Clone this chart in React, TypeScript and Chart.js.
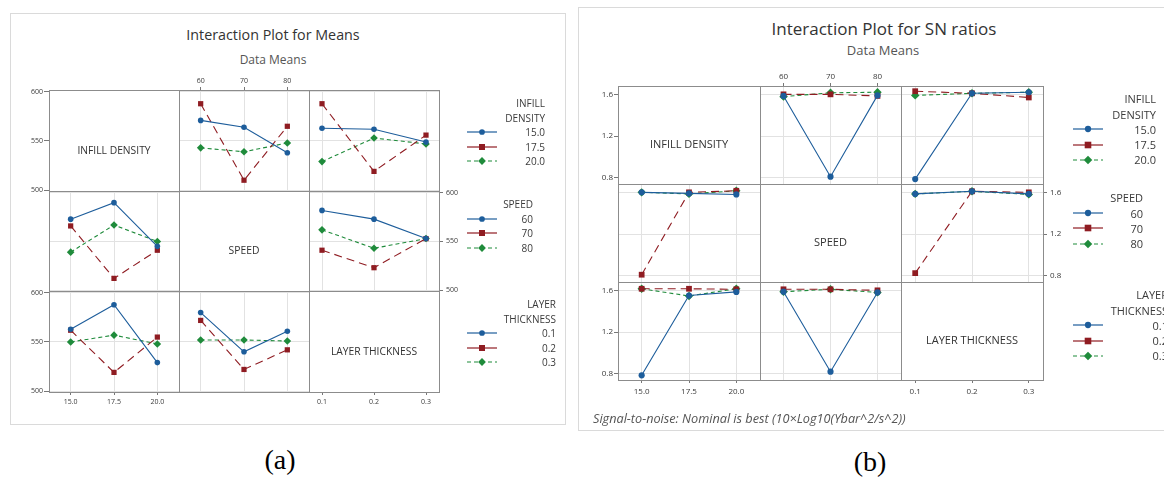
import React, { useEffect, useRef } from "react";
import { Chart, registerables } from "chart.js";
Chart.register(...registerables);

// ---------- data ----------
const FACTORS = ["INFILL DENSITY", "SPEED", "LAYER THICKNESS"];
const LEGEND_HEADERS = [["INFILL", "DENSITY"], ["SPEED"], ["LAYER", "THICKNESS"]];
const INFILL_LEVELS = [15.0, 17.5, 20.0];
const SPEED_LEVELS = [60, 70, 80];
const LAYER_LEVELS = [0.1, 0.2, 0.3];
const INFILL_LABELS = ["15.0", "17.5", "20.0"];
const SPEED_LABELS = ["60", "70", "80"];
const LAYER_LABELS = ["0.1", "0.2", "0.3"];
const INFILL_RANGE = [13.75, 21.25];
const SPEED_RANGE = [55, 85];
const LAYER_RANGE = [0.075, 0.325];

const MEANS_TICKS = [500, 550, 600];
const MEANS_TICK_LABELS = ["500", "550", "600"];
const MEANS_RANGE = [499, 602];
const SN_TICKS = [0.8, 1.2, 1.6];
const SN_TICK_LABELS = ["0.8", "1.2", "1.6"];
const SN_RANGE = [0.74, 1.68];

// [line level][x level]
const MEANS_INFILL_BY_SPEED = [[571, 564, 538], [588, 510, 565], [543, 539, 548]];
const MEANS_INFILL_BY_LAYER = [[563, 562, 549], [588, 519, 556], [529, 553, 547]];
const MEANS_SPEED_BY_INFILL = [[573, 590, 545], [566, 512, 541], [539, 567, 550]];
const MEANS_SPEED_BY_LAYER = [[582, 573, 553], [541, 523, 553], [562, 543, 553]];
const MEANS_LAYER_BY_INFILL = [[563, 588, 529], [562, 519, 555], [550, 557, 548]];
const MEANS_LAYER_BY_SPEED = [[580, 540, 561], [572, 522, 542], [552, 552, 551]];

const SN_INFILL_BY_SPEED = [[1.585, 0.81, 1.59], [1.6, 1.6, 1.585], [1.578, 1.615, 1.62]];
const SN_INFILL_BY_LAYER = [[0.787, 1.61, 1.62], [1.63, 1.61, 1.57], [1.59, 1.61, 1.62]];
const SN_SPEED_BY_INFILL = [[1.6, 1.59, 1.58], [0.81, 1.6, 1.615], [1.6, 1.585, 1.615]];
const SN_SPEED_BY_LAYER = [[1.585, 1.61, 1.585], [0.825, 1.61, 1.6], [1.585, 1.61, 1.58]];
const SN_LAYER_BY_INFILL = [[0.785, 1.55, 1.585], [1.615, 1.615, 1.61], [1.615, 1.546, 1.615]];
const SN_LAYER_BY_SPEED = [[1.587, 0.82, 1.58], [1.61, 1.61, 1.6], [1.587, 1.61, 1.58]];

const LEVELS = [INFILL_LEVELS, SPEED_LEVELS, LAYER_LEVELS];
const LEVEL_LABELS = [INFILL_LABELS, SPEED_LABELS, LAYER_LABELS];
const RANGES = [INFILL_RANGE, SPEED_RANGE, LAYER_RANGE];

const MEANS_DATA = [
  [null, MEANS_INFILL_BY_SPEED, MEANS_INFILL_BY_LAYER],
  [MEANS_SPEED_BY_INFILL, null, MEANS_SPEED_BY_LAYER],
  [MEANS_LAYER_BY_INFILL, MEANS_LAYER_BY_SPEED, null],
];
const SN_DATA = [
  [null, SN_INFILL_BY_SPEED, SN_INFILL_BY_LAYER],
  [SN_SPEED_BY_INFILL, null, SN_SPEED_BY_LAYER],
  [SN_LAYER_BY_INFILL, SN_LAYER_BY_SPEED, null],
];

// ---------- styles ----------
const STYLES = [
  { color: "#1d5d9b", dash: [] as number[], point: "circle", r: 2.8 },
  { color: "#8f1c22", dash: [8, 5], point: "rect", r: 3.7 },
  { color: "#1f8b3b", dash: [4, 3], point: "rectRot", r: 3.8 },
];
const GRID = "#e2e2e2";
const FRAME = "#8c8c8c";
const TXT = "#3a3a3a";
const FONT = '"Open Sans", "Noto Sans", sans-serif';
const M = 30;

type Side = { tl: number; pad: number };
type Spec = {
  left: number; top: number; cw: number; ch: number;
  yTicks: number[]; yLabels: string[]; yRange: number[];
  data: (number[][] | null)[][];
  tickFont: number; diagFont: number; rScale: number;
  sides: { top: Side; bottom: Side; left: Side; right: Side };
};

const SPEC_A: Spec = {
  left: 49, top: 90, cw: 130, ch: 100.67,
  yTicks: MEANS_TICKS, yLabels: MEANS_TICK_LABELS, yRange: MEANS_RANGE,
  data: MEANS_DATA, tickFont: 7, diagFont: 10.3, rScale: 1,
  sides: { top: { tl: 3, pad: 2 }, bottom: { tl: 3, pad: 3 }, left: { tl: 5, pad: 1 }, right: { tl: 4, pad: 3 } },
};
const SPEC_B: Spec = {
  left: 618, top: 86, cw: 141.7, ch: 98,
  yTicks: SN_TICKS, yLabels: SN_TICK_LABELS, yRange: SN_RANGE,
  data: SN_DATA, tickFont: 8, diagFont: 11, rScale: 1.1,
  sides: { top: { tl: 3, pad: 1 }, bottom: { tl: 3, pad: 4 }, left: { tl: 4, pad: 1 }, right: { tl: 4, pad: 3 } },
};

type CellProps = {
  spec: Spec; r: number; c: number;
  xAxis: "top" | "bottom" | null; yAxis: "left" | "right" | null;
};

function Cell({ spec, r, c, xAxis, yAxis }: CellProps) {
  const ref = useRef<HTMLCanvasElement>(null);
  const x0 = Math.round(spec.left + c * spec.cw);
  const x1 = Math.round(spec.left + (c + 1) * spec.cw);
  const y0 = Math.round(spec.top + r * spec.ch);
  const y1 = Math.round(spec.top + (r + 1) * spec.ch);
  const w = x1 - x0;
  const h = y1 - y0;
  const series = spec.data[r][c];
  const diag = r === c;
  useEffect(() => {
    const xs = LEVELS[c];
    const datasets = (series || []).map((vals, i) => {
      const st = STYLES[i];
      return {
        label: LEVEL_LABELS[r][i],
        data: xs.map((x, j) => ({ x, y: vals[j] })),
        borderColor: st.color,
        backgroundColor: st.color,
        borderWidth: 1.1,
        borderDash: st.dash,
        pointStyle: st.point,
        pointRadius: st.r * spec.rScale,
        pointBorderWidth: 0,
        pointBackgroundColor: st.color,
        showLine: true,
        tension: 0,
        clip: false as any,
      };
    });
    const xs2 = xAxis ? spec.sides[xAxis] : { tl: 0, pad: 0 };
    const ys2 = yAxis ? spec.sides[yAxis] : { tl: 0, pad: 0 };
    const tickFont = { family: FONT, size: spec.tickFont };
    const chart = new Chart(ref.current as HTMLCanvasElement, {
      type: "line",
      data: { datasets: datasets as any },
      options: {
        responsive: false,
        maintainAspectRatio: false,
        animation: false,
        events: [],
        layout: {
          padding: {
            left: yAxis === "left" ? 0 : M,
            right: yAxis === "right" ? 0 : M,
            top: xAxis === "top" ? 0 : M,
            bottom: xAxis === "bottom" ? 0 : M,
          },
        },
        plugins: { legend: { display: false }, tooltip: { enabled: false }, title: { display: false } },
        scales: {
          x: {
            type: "linear",
            position: xAxis || "bottom",
            min: RANGES[c][0],
            max: RANGES[c][1],
            afterBuildTicks: (s: any) => { s.ticks = xs.map((v) => ({ value: v })); },
            afterFit: (s: any) => { s.height = xAxis ? M : 0; },
            ticks: {
              display: !!xAxis,
              autoSkip: false,
              maxRotation: 0,
              minRotation: 0,
              padding: xs2.pad,
              font: tickFont,
              color: TXT,
              callback: (_v: any, i: number) => LEVEL_LABELS[c][i],
            },
            grid: {
              display: true,
              drawOnChartArea: !diag,
              drawTicks: !!xAxis,
              tickLength: xs2.tl,
              color: GRID,
              tickColor: "#777",
              lineWidth: 1,
            },
            border: { display: false },
          },
          y: {
            type: "linear",
            position: yAxis || "left",
            min: spec.yRange[0],
            max: spec.yRange[1],
            afterBuildTicks: (s: any) => { s.ticks = spec.yTicks.map((v) => ({ value: v })); },
            afterFit: (s: any) => { s.width = yAxis ? M : 0; },
            ticks: {
              display: !!yAxis,
              autoSkip: false,
              padding: ys2.pad,
              font: tickFont,
              color: TXT,
              callback: (_v: any, i: number) => spec.yLabels[i],
            },
            grid: {
              display: true,
              drawOnChartArea: !diag,
              drawTicks: !!yAxis,
              tickLength: ys2.tl,
              color: GRID,
              tickColor: "#777",
              lineWidth: 1,
            },
            border: { display: false },
          },
        },
      } as any,
    });
    return () => chart.destroy();
  }, []);
  return (
    <>
      <canvas
        ref={ref}
        width={w + 2 * M}
        height={h + 2 * M}
        style={{ position: "absolute", left: x0 - M, top: y0 - M, width: w + 2 * M, height: h + 2 * M }}
      />
      {diag && (
        <div
          style={{
            position: "absolute", left: x0, width: w, top: y0 + h / 2 + 9 - 10, height: 20,
            lineHeight: "20px", textAlign: "center", fontSize: spec.diagFont, color: "#333", fontFamily: FONT,
          }}
        >
          {FACTORS[r]}
        </div>
      )}
    </>
  );
}

function Matrix({ spec }: { spec: Spec }) {
  const cells: React.ReactNode[] = [];
  const axisFor = (r: number, c: number): ["top" | "bottom" | null, "left" | "right" | null] => {
    if (r === 0 && c === 0) return [null, "left"];
    if (r === 0 && c === 1) return ["top", null];
    if (r === 1 && c === 2) return [null, "right"];
    if (r === 2 && c === 0) return ["bottom", "left"];
    if (r === 2 && c === 2) return ["bottom", null];
    return [null, null];
  };
  for (let r = 0; r < 3; r++) {
    for (let c = 0; c < 3; c++) {
      const [xa, ya] = axisFor(r, c);
      cells.push(<Cell key={`${r}-${c}`} spec={spec} r={r} c={c} xAxis={xa} yAxis={ya} />);
    }
  }
  const L = spec.left;
  const T = spec.top;
  const R = Math.round(spec.left + 3 * spec.cw);
  const B = Math.round(spec.top + 3 * spec.ch);
  const lines: React.ReactNode[] = [];
  for (let i = 0; i <= 3; i++) {
    const x = Math.round(spec.left + i * spec.cw);
    const y = Math.round(spec.top + i * spec.ch);
    lines.push(<div key={`v${i}`} style={{ position: "absolute", left: x, top: T, width: 1, height: B - T + 1, background: FRAME }} />);
    lines.push(<div key={`h${i}`} style={{ position: "absolute", left: L, top: y, width: R - L + 1, height: 1, background: FRAME }} />);
  }
  return (
    <>
      {cells}
      {lines}
    </>
  );
}

function Marker({ i, size }: { i: number; size: number }) {
  const st = STYLES[i];
  const cx = 15;
  const cy = 5;
  if (i === 0) return <circle cx={cx} cy={cy} r={size * 0.95} fill={st.color} />;
  if (i === 1) return <rect x={cx - size} y={cy - size} width={size * 2} height={size * 2} fill={st.color} />;
  return <polygon points={`${cx},${cy - size * 1.3} ${cx + size * 1.3},${cy} ${cx},${cy + size * 1.3} ${cx - size * 1.3},${cy}`} fill={st.color} />;
}

type LegendProps = { f: number; x: number; right: number; y0: number; step: number; fontSize: number; mk: number };
function Legend({ f, x, right, y0, step, fontSize, mk }: LegendProps) {
  const header = LEGEND_HEADERS[f];
  const lh = fontSize * 1.4;
  const items: React.ReactNode[] = [];
  header.forEach((t, k) => {
    const y = y0 + k * step;
    items.push(
      <div key={`h${k}`} style={{ position: "absolute", left: right - 200, width: 200, top: y - lh / 2, height: lh, lineHeight: `${lh}px`, textAlign: "right", fontSize, color: TXT, fontFamily: FONT, whiteSpace: "nowrap" }}>{t}</div>
    );
  });
  LEVEL_LABELS[f].forEach((t, i) => {
    const y = y0 + (header.length + i) * step;
    const st = STYLES[i];
    items.push(
      <svg key={`s${i}`} width={30} height={10} style={{ position: "absolute", left: x, top: y - 5 }}>
        <line x1={0} y1={5} x2={30} y2={5} stroke={st.color} strokeWidth={1.2} strokeDasharray={st.dash.length ? (i === 1 ? "30" : "4 3") : undefined} />
        <Marker i={i} size={mk} />
      </svg>
    );
    items.push(
      <div key={`l${i}`} style={{ position: "absolute", left: right - 200, width: 200, top: y - lh / 2, height: lh, lineHeight: `${lh}px`, textAlign: "right", fontSize, color: TXT, fontFamily: FONT, whiteSpace: "nowrap" }}>{t}</div>
    );
  });
  return <>{items}</>;
}

function Text({ x, y, size, children, color = "#333", italic = false, align = "center", family = FONT }: any) {
  const lh = size * 1.4;
  const style: any = {
    position: "absolute", top: y - lh / 2, height: lh, lineHeight: `${lh}px`, fontSize: size, color,
    fontFamily: family, fontStyle: italic ? "italic" : "normal", whiteSpace: "nowrap",
  };
  if (align === "center") { style.left = x - 300; style.width = 600; style.textAlign = "center"; }
  else { style.left = x; }
  return <div style={style}>{children}</div>;
}

export default function App() {
  return (
    <div style={{ position: "absolute", left: 0, top: 0, width: 1164, height: 477, overflow: "hidden", background: "#fff" }}>
      <div style={{ position: "absolute", left: 10, top: 13, width: 556, height: 412, border: "1px solid #dadada", boxSizing: "border-box" }} />
      <div style={{ position: "absolute", left: 578, top: 7, width: 640, height: 424, border: "1px solid #dadada", boxSizing: "border-box" }} />

      <Text x={273} y={35} size={14.3}>Interaction Plot for Means</Text>
      <Text x={273} y={60} size={12} color="#555">Data Means</Text>
      <Matrix spec={SPEC_A} />
      <Legend f={0} x={467} right={545} y0={103} step={14.5} fontSize={10} mk={3} />
      <Legend f={1} x={467} right={533} y0={204} step={14.5} fontSize={10} mk={3} />
      <Legend f={2} x={467} right={556} y0={304} step={14.5} fontSize={10} mk={3} />

      <Text x={884} y={29} size={17}>Interaction Plot for SN ratios</Text>
      <Text x={883} y={50} size={13} color="#555">Data Means</Text>
      <Matrix spec={SPEC_B} />
      <Legend f={0} x={1073} right={1156} y0={99} step={15.2} fontSize={11} mk={3.3} />
      <Legend f={1} x={1073} right={1143} y0={198} step={15.2} fontSize={11} mk={3.3} />
      <Legend f={2} x={1073} right={1168} y0={295} step={15.2} fontSize={11} mk={3.3} />
      <Text x={593} y={419} size={12.7} italic color="#555" align="left">Signal-to-noise: Nominal is best (10×Log10(Ybar^2/s^2))</Text>

      <Text x={280} y={460} size={28} color="#000" family='"Liberation Serif", "Times New Roman", serif'>(a)</Text>
      <Text x={870} y={462} size={28} color="#000" family='"Liberation Serif", "Times New Roman", serif'>(b)</Text>
    </div>
  );
}
